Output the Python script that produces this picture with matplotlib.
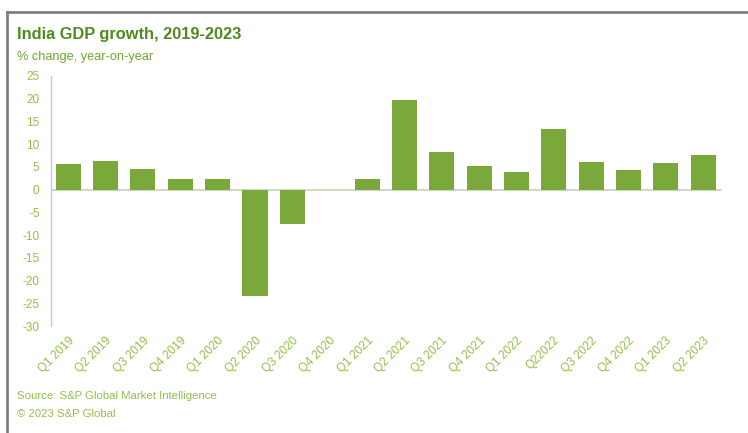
import matplotlib.pyplot as plt
from matplotlib.lines import Line2D

# quarters and GDP growth (% yoy)
quarters = ["Q1 2019", "Q2 2019", "Q3 2019", "Q4 2019",
            "Q1 2020", "Q2 2020", "Q3 2020", "Q4 2020",
            "Q1 2021", "Q2 2021", "Q3 2021", "Q4 2021",
            "Q1 2022", "Q22022", "Q3 2022", "Q4 2022",
            "Q1 2023", "Q2 2023"]
growth = [5.6, 6.3, 4.6, 2.4,
          2.4, -23.4, -7.5, 0.0,
          2.3, 19.8, 8.2, 5.1,
          3.8, 13.3, 6.1, 4.4,
          5.9, 7.6]
yticks = list(range(-30, 30, 5))

plt.rcParams['font.family'] = ['Liberation Sans', 'DejaVu Sans']

bar_color = '#7aa83a'
title_color = '#4f8a1c'
sub_color = '#6fa82c'
tick_color = '#93c048'

fig = plt.figure(figsize=(7.48, 4.33), dpi=100)
ax = fig.add_axes([0.0678, 0.247, 0.8972, 0.5775])

x = range(len(quarters))
ax.bar(x, growth, width=0.67, color=bar_color, zorder=2)
ax.axhline(0, color='#c8d4b8', linewidth=1.2, zorder=1)

ax.set_xlim(-0.47, len(quarters) - 0.5)
ax.set_ylim(-30, 25)
ax.set_yticks(yticks)
ax.set_yticklabels([str(v) for v in yticks])
ax.set_xticks(list(x))
ax.set_xticklabels(quarters, rotation=45, ha='right', rotation_mode='anchor')

ax.tick_params(axis='y', length=0, pad=8, labelsize=8.5, labelcolor=tick_color)
ax.tick_params(axis='x', length=0, pad=6, labelsize=8.5, labelcolor=tick_color)

for side in ['top', 'right', 'bottom']:
    ax.spines[side].set_visible(False)
ax.spines['left'].set_color('#c8ccc0')
ax.spines['left'].set_linewidth(1.0)

fig.text(0.023, 0.92, "India GDP growth, 2019-2023", fontsize=11.8,
         fontweight='bold', color=title_color, va='center')
fig.text(0.023, 0.868, "% change, year-on-year", fontsize=9.2,
         color=sub_color, va='center')
fig.text(0.023, 0.085, "Source: S&P Global Market Intelligence", fontsize=8.2,
         color=tick_color, va='center')
fig.text(0.023, 0.045, "\u00a9 2023 S&P Global", fontsize=8.2,
         color=tick_color, va='center')

# screenshot border (top and left edges only)
fig.add_artist(Line2D([0.0094, 1.0], [0.972, 0.972], transform=fig.transFigure,
                      color='#7f7f7f', linewidth=2))
fig.add_artist(Line2D([0.0094, 0.0094], [0.0, 0.972], transform=fig.transFigure,
                      color='#7f7f7f', linewidth=2))

fig.savefig('out.png', dpi=100)
